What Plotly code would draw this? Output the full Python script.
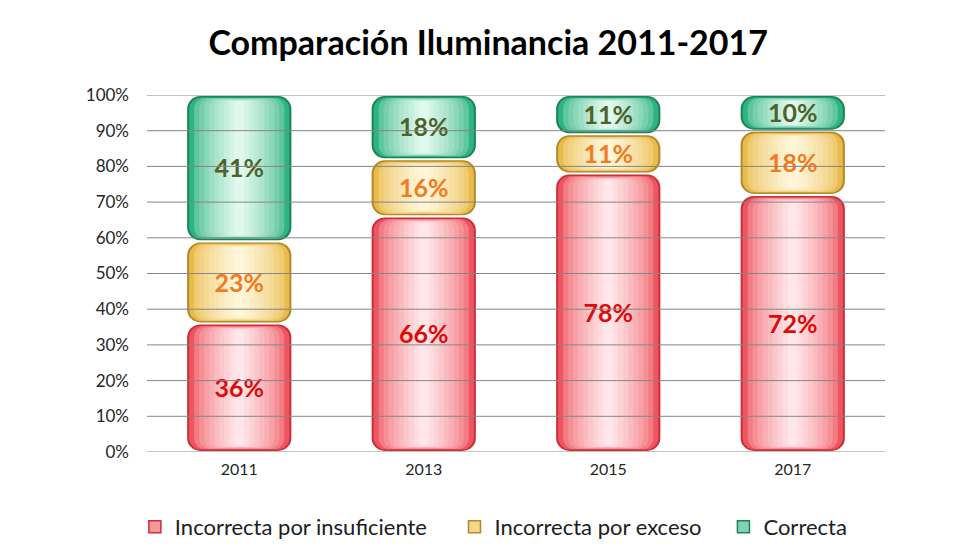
import plotly.graph_objects as go

years = ["2011", "2013", "2015", "2017"]
series_names = ["Incorrecta por insuficiente", "Incorrecta por exceso", "Correcta"]
insuficiente = [36, 66, 78, 72]
exceso = [23, 16, 11, 18]
correcta = [41, 18, 11, 10]
y_ticks = [0, 10, 20, 30, 40, 50, 60, 70, 80, 90, 100]
y_tick_labels = [f"{v}%" for v in y_ticks]

series_values = [insuficiente, exceso, correcta]
# border, edge, center
palettes = [
    ("#C8303A", "#EE5560", "#FFE6E8"),
    ("#B38A28", "#E9BB4C", "#FFF6DA"),
    ("#1B8458", "#30B382", "#E0F9EE"),
]
label_colors = ["#DD0A0A", "#F47A20", "#4F6228"]


def mix(c1, c2, t):
    a = [int(c1[i:i + 2], 16) for i in (1, 3, 5)]
    b = [int(c2[i:i + 2], 16) for i in (1, 3, 5)]
    return "#" + "".join(f"{round(x + (y - x) * t):02X}" for x, y in zip(a, b))


BAR_W = 0.565
N_LAYERS = 10
LABEL_SHIFT = 0.8  # small vertical nudge of value labels (in axis units)

fig = go.Figure()

bottoms = [0, 0, 0, 0]
for s, vals in enumerate(series_values):
    border, edge, center = palettes[s]
    layer_specs = [(BAR_W, 0.3, 13, border)]
    for k in range(N_LAYERS):
        t = k / (N_LAYERS - 1)
        w = (BAR_W - 0.022) * (1 - 0.9 * t)
        inset = 0.7 + 1.0 * t
        rad = max(3, 12 - 8 * t)
        col = mix(edge, center, t ** 0.6)
        layer_specs.append((w, inset, rad, col))
    for w, inset, rad, col in layer_specs:
        fig.add_trace(go.Bar(
            x=years, y=[v - 2 * inset for v in vals],
            base=[b + inset for b in bottoms],
            width=[w] * len(years),
            marker=dict(color=col, cornerradius=rad, line=dict(width=0)),
            showlegend=False, hoverinfo="skip",
        ))
    mids = [b + v / 2 - LABEL_SHIFT for b, v in zip(bottoms, vals)]
    fig.add_trace(go.Scatter(
        x=years, y=mids, mode="text",
        text=[f"{v}%" for v in vals],
        textfont=dict(family="Lato", size=25, color=label_colors[s], weight="bold"),
        showlegend=False, hoverinfo="skip",
    ))
    bottoms = [b + v for b, v in zip(bottoms, vals)]

# legend-only entries
legend_pad = ["&nbsp;" * 4, "&nbsp;" * 3, ""]
for s, name in enumerate(series_names):
    fig.add_trace(go.Bar(
        x=years, y=[None] * len(years), name=name + legend_pad[s],
        marker=dict(color=mix(palettes[s][1], palettes[s][2], 0.45),
                    line=dict(color=palettes[s][0], width=1.5)),
        showlegend=True,
    ))

# gridlines drawn above bars (as in the reference)
shapes = []
for v in y_ticks:
    shapes.append(dict(type="line", xref="paper", yref="y", x0=0, x1=1, y0=v, y1=v,
                       line=dict(color="#868686", width=1), layer="above"))

fig.update_layout(
    width=980, height=550,
    paper_bgcolor="white", plot_bgcolor="white",
    barmode="overlay",
    margin=dict(l=139, r=103, t=87, b=106, autoexpand=False),
    title=dict(text="<b>Comparación Iluminancia 2011-2017</b>",
               font=dict(family="Lato", size=34, color="black"),
               x=0.49, xanchor="center", y=0.936, yanchor="middle"),
    xaxis=dict(type="category", categoryorder="array", categoryarray=years,
               showgrid=False, showline=False, zeroline=False, ticks="",
               ticklabelstandoff=6,
               tickfont=dict(family="Lato", size=16, color="#262626")),
    yaxis=dict(range=[0, 100], tickvals=y_ticks, ticktext=y_tick_labels,
               showgrid=False, zeroline=False, showline=False, ticks="",
               ticklabelstandoff=17,
               tickfont=dict(family="Lato", size=17, color="#262626")),
    legend=dict(orientation="h", x=0.47, xanchor="center", y=-0.21, yanchor="middle",
                font=dict(family="Lato", size=22, color="#202020"),
                itemwidth=30, tracegroupgap=0),
    shapes=shapes,
)

fig.write_html("out.html")
